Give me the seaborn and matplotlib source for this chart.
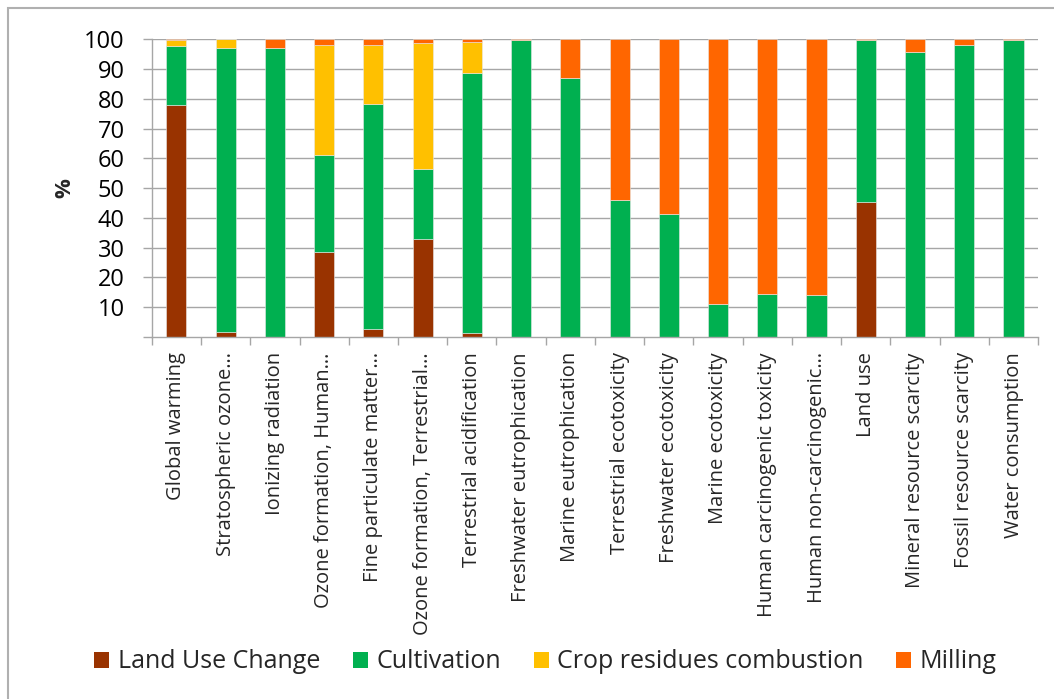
import matplotlib
matplotlib.use("Agg")
import matplotlib.pyplot as plt
from matplotlib.patches import Patch, Rectangle
import numpy as np
import pandas as pd
import seaborn as sns

categories = [
    "Global warming", "Stratospheric ozone…", "Ionizing radiation",
    "Ozone formation, Human…", "Fine particulate matter…",
    "Ozone formation, Terrestrial…", "Terrestrial acidification",
    "Freshwater eutrophication", "Marine eutrophication",
    "Terrestrial ecotoxicity", "Freshwater ecotoxicity", "Marine ecotoxicity",
    "Human carcinogenic toxicity", "Human non-carcinogenic…", "Land use",
    "Mineral resource scarcity", "Fossil resource scarcity", "Water consumption",
]

land_use_change = [78.0, 1.7, 0.0, 28.7, 2.8, 32.8, 1.3, 0.0, 0.0,
                   0.0, 0.0, 0.0, 0.0, 0.0, 45.5, 0.0, 0.0, 0.0]
cultivation = [19.7, 95.5, 97.0, 32.5, 75.6, 23.6, 87.3, 99.8, 87.1,
               46.1, 41.2, 11.2, 14.3, 14.2, 54.4, 95.9, 98.2, 99.7]
crop_residues = [2.0, 2.8, 0.0, 37.0, 19.8, 42.3, 10.6, 0.0, 0.0,
                 0.0, 0.0, 0.0, 0.0, 0.0, 0.0, 0.0, 0.0, 0.0]
milling = [0.3, 0.0, 3.0, 1.8, 1.8, 1.3, 0.8, 0.2, 12.9,
           53.9, 58.8, 88.8, 85.7, 85.8, 0.1, 4.1, 1.8, 0.3]

series_names = ["Land Use Change", "Cultivation", "Crop residues combustion", "Milling"]
series_colors = ["#993300", "#00B050", "#FFC000", "#FF6600"]
y_ticks = [10, 20, 30, 40, 50, 60, 70, 80, 90, 100]

df = pd.DataFrame({
    "category": categories,
    series_names[0]: land_use_change,
    series_names[1]: cultivation,
    series_names[2]: crop_residues,
    series_names[3]: milling,
})

sns.set_theme(style="white")
plt.rcParams["font.family"] = ["Open Sans", "DejaVu Sans"]

fig = plt.figure(figsize=(10.54, 6.99), dpi=100)
ax = fig.add_axes([0.144, 0.518, 0.841, 0.4255])

grid_gray = "#A6A6A6"
ax.set_axisbelow(True)
ax.yaxis.grid(True, color=grid_gray, linewidth=1.0)

# stacked bars: each series sits on the running total of the previous ones
bottom = np.zeros(len(categories))
for name, color in zip(series_names, series_colors):
    vals = df[name].to_numpy()
    sns.barplot(data=df, x="category", y=name, order=categories,
                bottom=bottom, color=color, width=0.41, errorbar=None,
                edgecolor="#E8E8E8", linewidth=0.4, saturation=1, ax=ax)
    bottom = bottom + vals

ax.set_ylim(0, 100)
ax.set_xlim(-0.5, len(categories) - 0.5)
ax.set_yticks(y_ticks)
ax.set_yticklabels([str(t) for t in y_ticks], fontsize=17)
ax.set_xlabel("")
ax.set_ylabel("%", fontsize=16, fontweight="bold", labelpad=6)

# y-axis ticks, including the unlabelled one at 0
ax.set_yticks([0], minor=True)
ax.tick_params(axis="y", which="both", length=6.5, width=1.0, color=grid_gray,
               direction="out", pad=13, left=True, labelcolor="black")

# category labels centred on bars, tick marks at category boundaries
ax.set_xticks(range(len(categories)))
ax.set_xticklabels(categories, rotation=90, fontsize=14.5)
ax.set_xticks(np.arange(-0.5, len(categories), 1.0), minor=True)
ax.tick_params(axis="x", which="major", length=0, pad=11)
ax.tick_params(axis="x", which="minor", length=6, width=1.0, color=grid_gray,
               direction="out", bottom=True)

for side in ["top", "right"]:
    ax.spines[side].set_visible(False)
for side in ["left", "bottom"]:
    ax.spines[side].set_color(grid_gray)
    ax.spines[side].set_linewidth(1.0)

handles = [Patch(facecolor=c, edgecolor="none", label=n)
           for n, c in zip(series_names, series_colors)]
fig.legend(handles=handles, loc="center", bbox_to_anchor=(0.5176, 0.053),
           ncol=4, frameon=False, fontsize=18, handlelength=0.6,
           handleheight=0.6, handletextpad=0.35, columnspacing=1.3)

# outer chart border (runs off the right and bottom edges)
fig.patches.append(Rectangle((7.5 / 1054, -10 / 699), 1060 / 1054, 701 / 699,
                             transform=fig.transFigure, fill=False,
                             edgecolor="#B0B0B0", linewidth=1.5))

fig.savefig("out.png", dpi=100)
